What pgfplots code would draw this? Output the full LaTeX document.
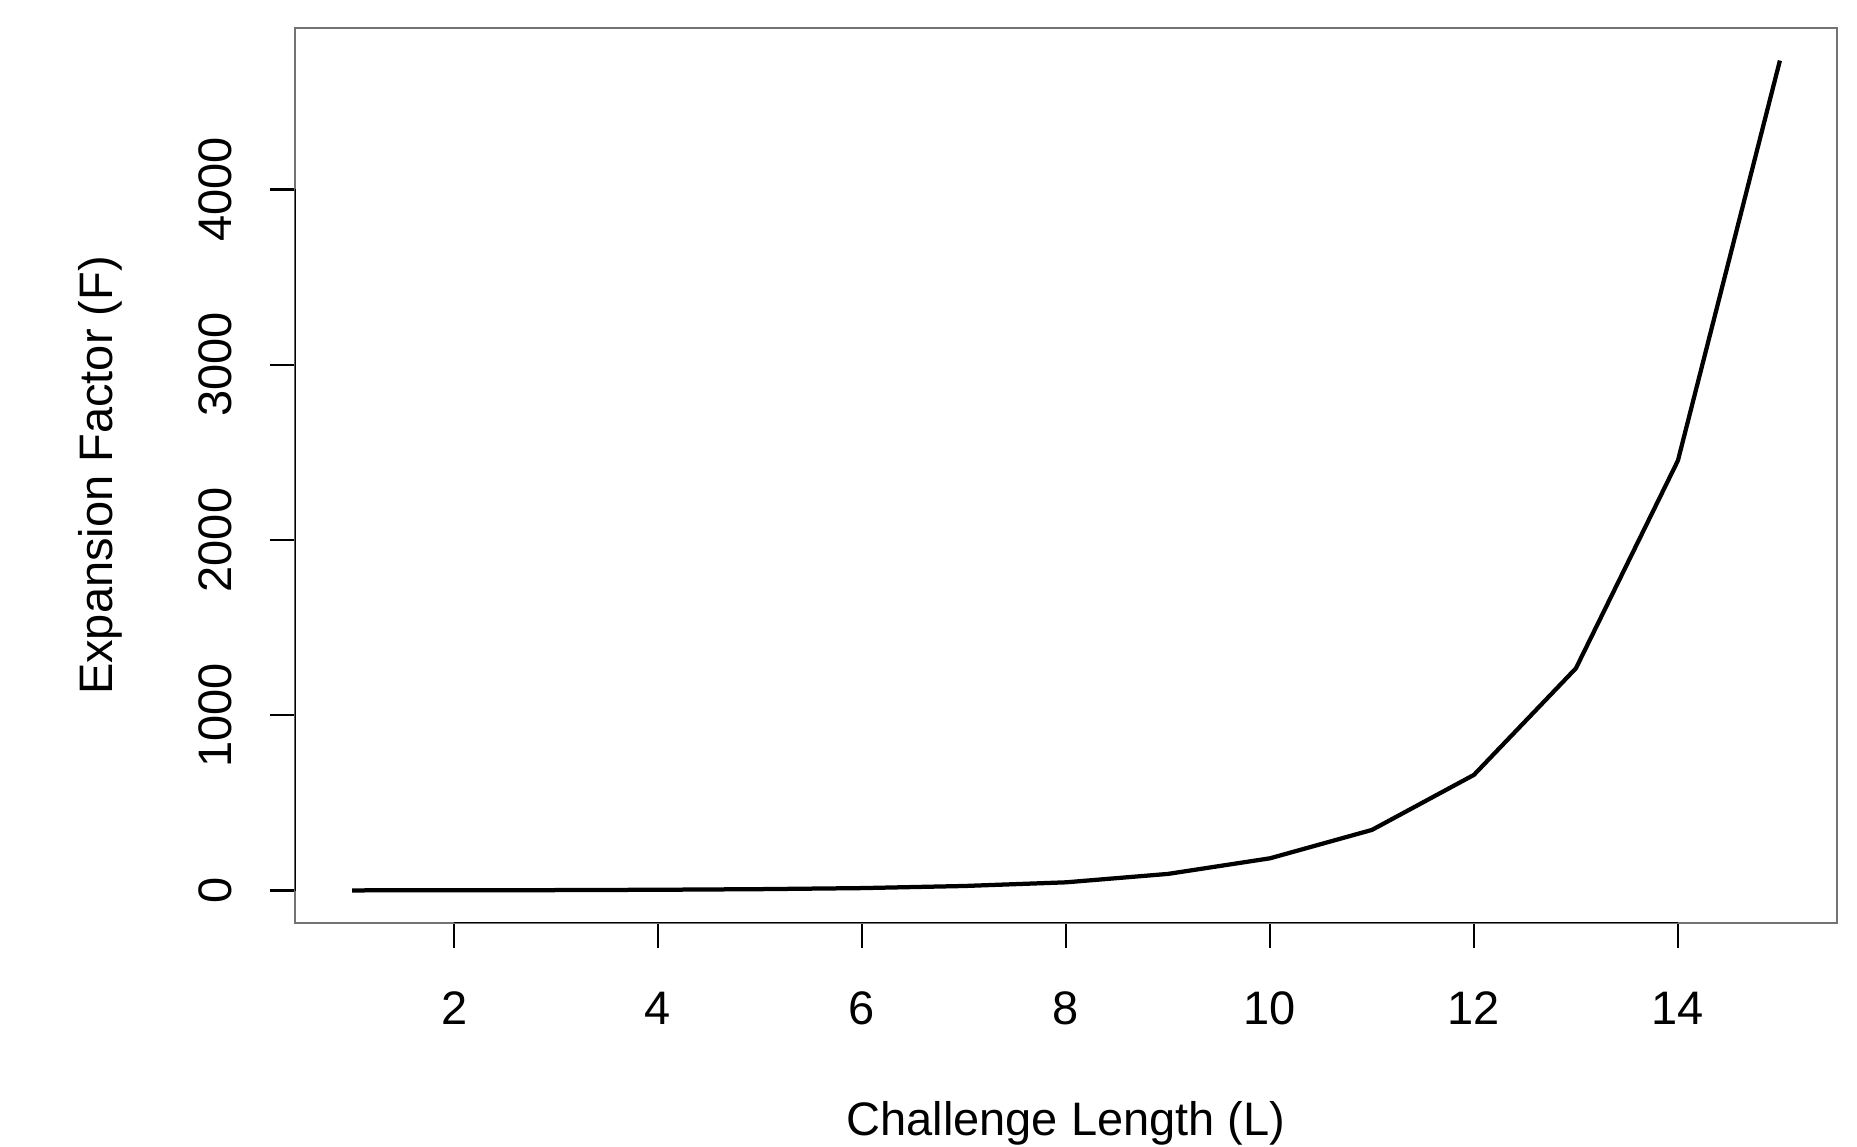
\documentclass[border=0pt]{standalone}
\usepackage{pgfplots}
\pgfplotsset{compat=1.18}
\usepackage{fontspec}
\setmainfont{Liberation Sans}
\begin{document}
\fontsize{9.4}{11}\selectfont
\begin{tikzpicture}
\begin{axis}[
  at={(59pt,44.8pt)}, anchor=south west,
  width=308.4pt, height=179pt, scale only axis,
  xmin=0.44, xmax=15.56,
  ymin=-185, ymax=4921,
  axis line style={draw=black!55, line width=0.45pt},
  xtick={2,4,...,14}, ytick={0,1000,...,4000},
  xtick pos=bottom, ytick pos=left,
  tick align=outside, major tick length=5pt,
  tick style={black, line width=0.45pt},
  /pgf/number format/assume math mode=true,
  /pgf/number format/1000 sep={},
  xticklabel style={anchor=center, yshift=-12pt},
  yticklabel style={anchor=center, xshift=-11pt, rotate=90},
  xlabel={Challenge Length (L)},
  ylabel={Expansion Factor (F)},
  xlabel style={at={(axis description cs:0.5,-0.2235)}, anchor=center},
  ylabel style={at={(axis description cs:-0.1261,0.5)}, anchor=center},
]
% darker axis lines spanning the tick range, as R draws them
\draw[black, line width=0.5pt] (axis cs:2,-185) -- (axis cs:14,-185);
\draw[black, line width=0.5pt] (axis cs:0.44,0) -- (axis cs:0.44,4000);
\addplot[black, line width=0.85pt, mark=none] coordinates {
(1,1) (2,1.5) (3,2.5) (4,4.5) (5,8) (6,14) (7,26) (8,47)
(9,95) (10,184) (11,346) (12,660) (13,1268) (14,2453) (15,4735)
};
\end{axis}
\pgfresetboundingbox
\useasboundingbox (0,0) rectangle (371.4pt,229.4pt);
\end{tikzpicture}
\end{document}
